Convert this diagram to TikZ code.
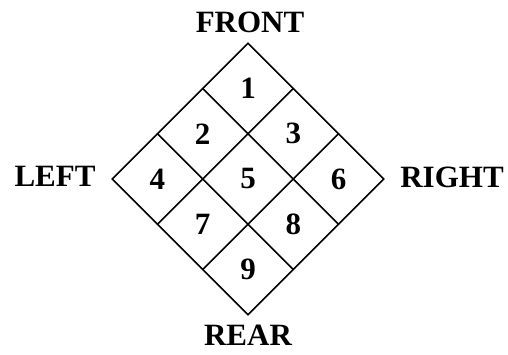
\documentclass[tikz,border=0pt]{standalone}
\usepackage{fontspec}
\setmainfont{Liberation Serif}
\usetikzlibrary{positioning}
\tikzset{
  every picture/.style={line join=round, line cap=round},
  cellnum/.style={font=\fontsize{31}{31}\selectfont\bfseries},
  sidelabel/.style={font=\fontsize{31}{31}\selectfont\bfseries},
  gridline/.style={line width=1.5pt},
}
\begin{document}
\begin{tikzpicture}[x=1pt,y=1pt]
\useasboundingbox (0,0) rectangle (508,354);
% the 3x3 grid, turned on its corner
\begin{scope}[shift={(248,175)},rotate=45]
\foreach \k in {0,...,3}{
  \draw[gridline] (-96+64*\k,-96) -- (-96+64*\k,96);
  \draw[gridline] (-96,-96+64*\k) -- (96,-96+64*\k);
}
\foreach \n/\u/\v in {1/2/2,2/1/2,3/2/1,4/0/2,5/1/1,6/2/0,7/0/1,8/1/0,9/0/0}
  \node[cellnum] (c\n) at (-64+64*\u,-64+64*\v) {\n};
\end{scope}
% sides
\node[sidelabel] (front) at (250,332) {FRONT};
\node[sidelabel] (left) at (55,178) {LEFT};
\node[sidelabel] (right) at (452,177) {RIGHT};
\node[sidelabel] (rear) at (248,19) {REAR};
\end{tikzpicture}
\end{document}
